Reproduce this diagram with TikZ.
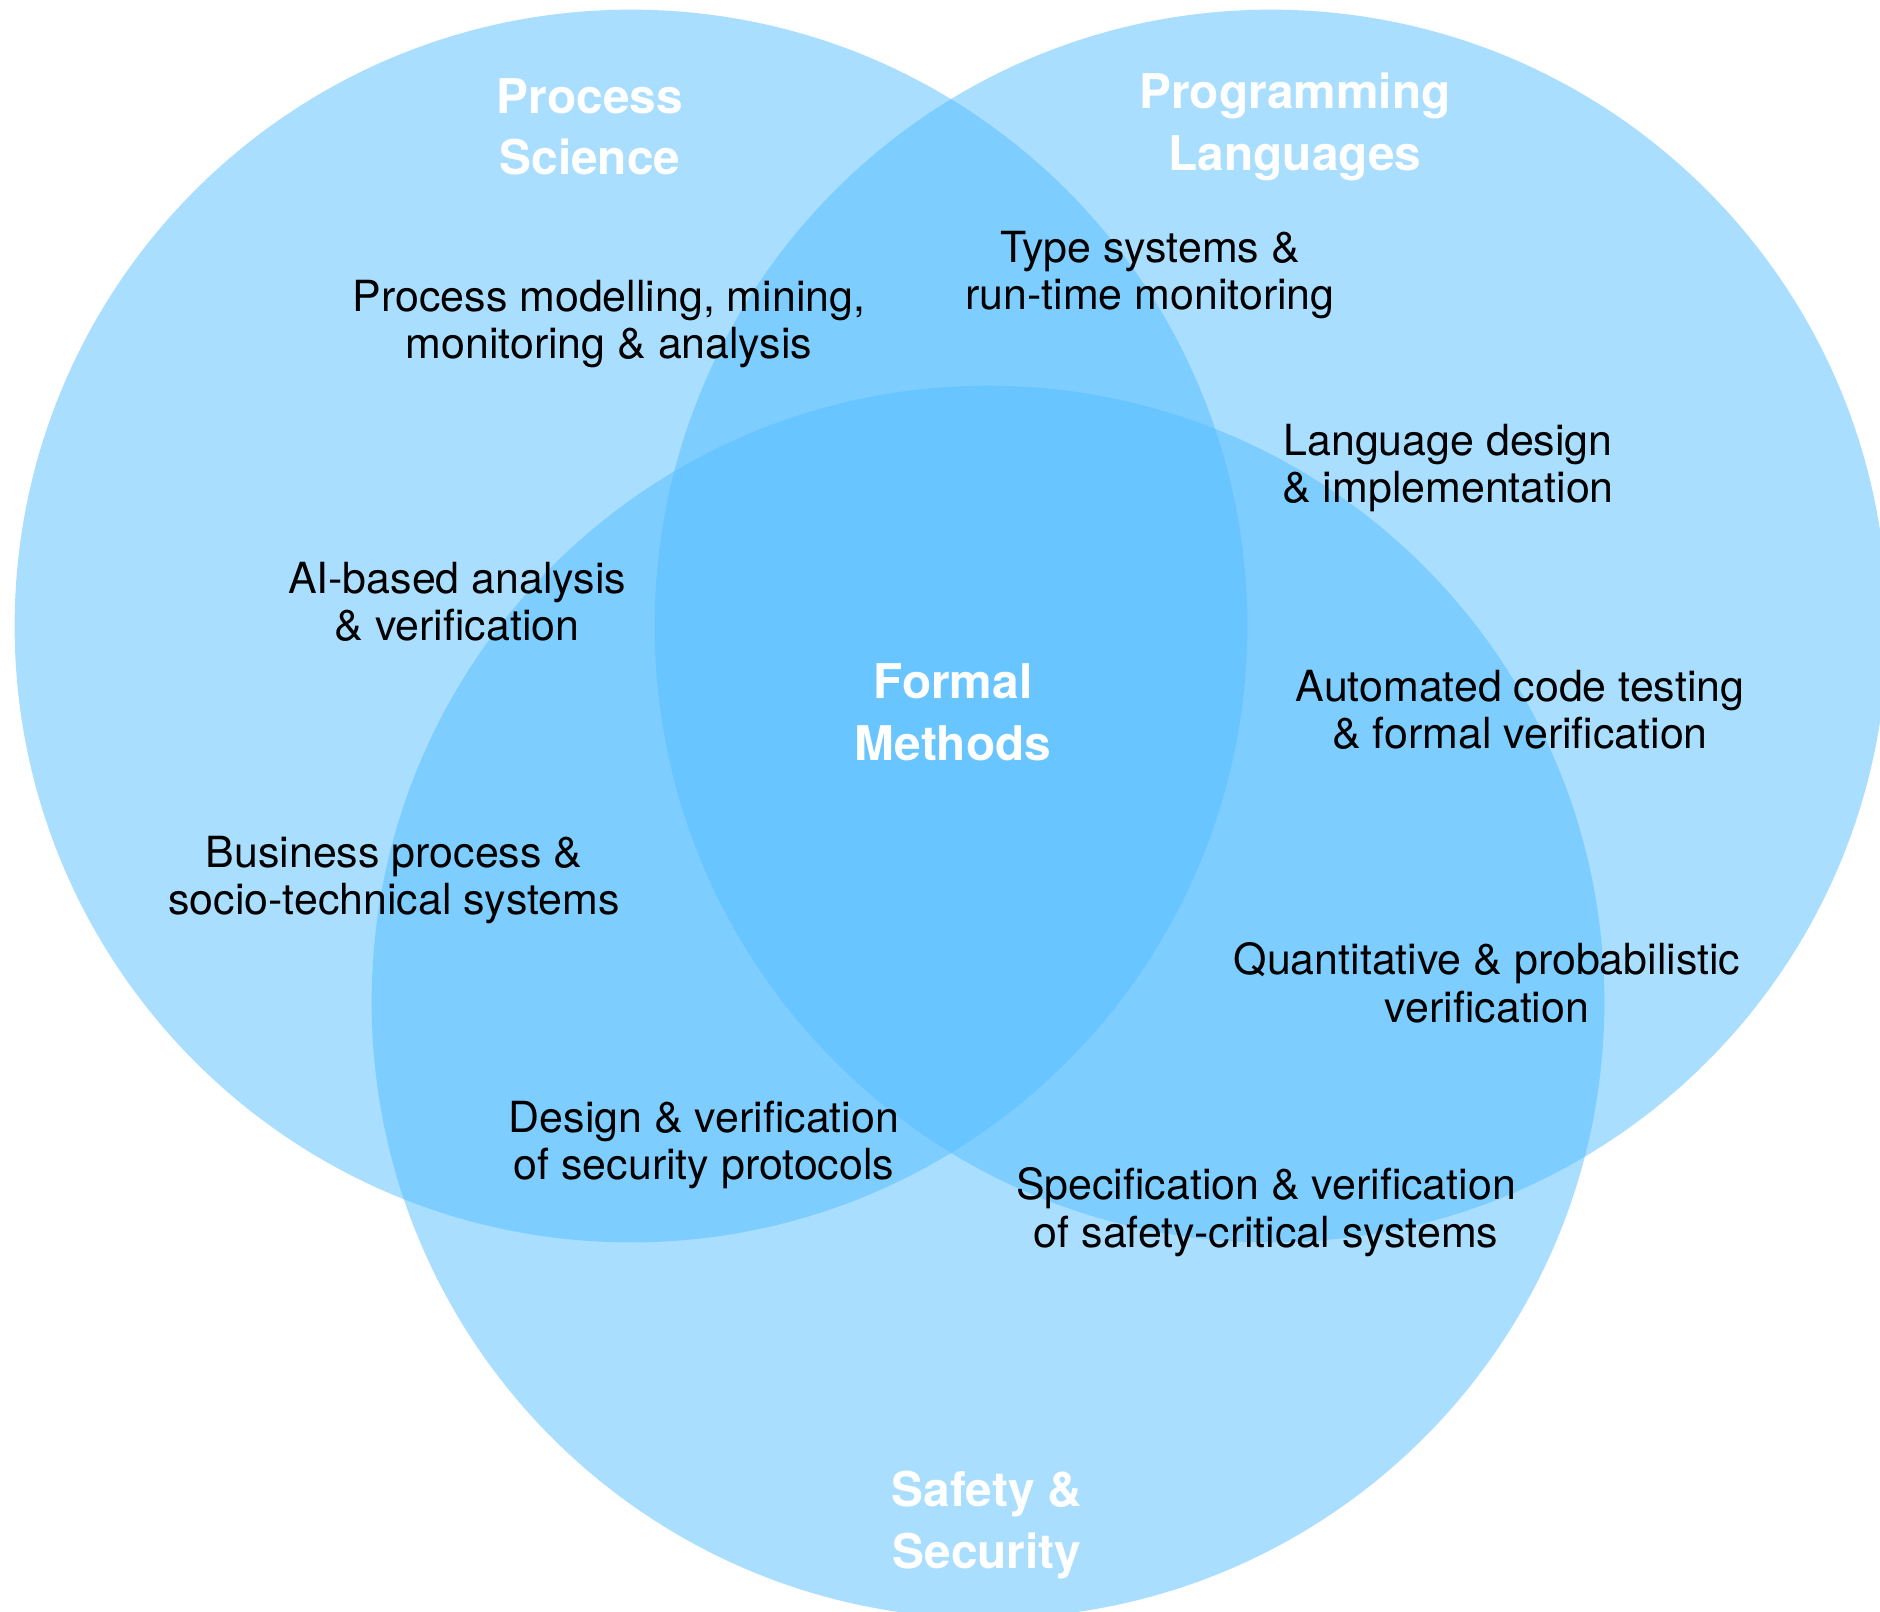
\documentclass[tikz,border=0pt]{standalone}
\usepackage{fontspec}
\setmainfont{TeX Gyre Heros}
\definecolor{vennblue}{RGB}{85,190,255}
\begin{document}
\begin{tikzpicture}[x=0.01cm,y=-0.01cm,
  venn/.style={fill=vennblue, fill opacity=0.5},
  area/.style={font=\fontsize{13.6}{17.5}\selectfont\bfseries, text=white, align=center, inner sep=0pt},
  topic/.style={font=\fontsize{12.2}{13.5}\selectfont, text=black, align=center, inner sep=0pt}]
\useasboundingbox (0,0) rectangle (1880,1611);
\fill[white] (0,0) rectangle (1880,1611);
\begin{scope}
\clip (0,0) rectangle (1880,1611);
\fill[venn] (631,626) circle[radius=6.16cm];
\fill[venn] (1271,626) circle[radius=6.16cm];
\fill[venn] (988,1002) circle[radius=6.16cm];
\end{scope}
% area titles
\node[area] (ps) at (590,127) {Process\\Science};
\node[area] (pl) at (1295,127) {Programming\\Languages};
\node[area] (fm) at (953,712) {Formal\\Methods};
\node[area] (ss) at (987,1525) {Safety \&\\Security};
% topics
\node[topic] (t1) at (1150,275) {Type systems \&\\run-time monitoring};
\node[topic] (t2) at (609,324) {Process modelling, mining,\\monitoring \& analysis};
\node[topic] (t3) at (1448,468) {Language design\\\& implementation};
\node[topic] (t4) at (457,602) {AI-based analysis\\\& verification};
\node[topic] (t5) at (1520,710) {Automated code testing\\\& formal verification};
\node[topic] (t6) at (394,880) {Business process \&\\socio-technical systems};
\node[topic] (t7) at (1487,983) {Quantitative \& probabilistic\\verification};
\node[topic] (t8) at (704,1145) {Design \& verification\\of security protocols};
\node[topic] (t9) at (1266,1212) {Specification \& verification\\of safety-critical systems};
\end{tikzpicture}
\end{document}
